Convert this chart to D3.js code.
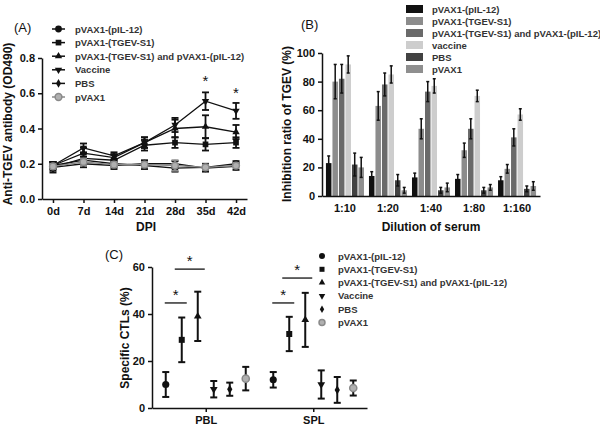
<!DOCTYPE html>
<html>
<head>
<meta charset="utf-8">
<script src="https://cdn.jsdelivr.net/npm/d3@7"></script>
<style>
  body { margin: 0; background: #fff; }
  svg text { font-family: "Liberation Sans", Arial, sans-serif; }
</style>
</head>
<body>
<svg id="chart" width="600" height="429"></svg>
<script>
// ---- data ----
var groupNames = ['pVAX1-(pIL-12)', 'pVAX1-(TGEV-S1)', 'pVAX1-(TGEV-S1) and pVAX1-(pIL-12)', 'Vaccine', 'PBS', 'pVAX1'];
var groupNamesB = ['pVAX1-(pIL-12)', 'pVAX1-(TGEV-S1)', 'pVAX1-(TGEV-S1) and pVAX1-(pIL-12)', 'vaccine', 'PBS', 'pVAX1'];

// (A) antibody OD490 by day
var days = ['0d', '7d', '14d', '21d', '28d', '35d', '42d'];
var odIL12   = [0.19, 0.22, 0.20, 0.19, 0.175, 0.18, 0.20];
var odS1     = [0.18, 0.23, 0.22, 0.305, 0.32, 0.31, 0.32];
var odCombo  = [0.19, 0.26, 0.235, 0.32, 0.40, 0.41, 0.38];
var odVacc   = [0.19, 0.29, 0.245, 0.32, 0.42, 0.555, 0.50];
var odPBS    = [0.18, 0.20, 0.19, 0.20, 0.20, 0.175, 0.185];
var odVAX1   = [0.185, 0.21, 0.195, 0.195, 0.19, 0.18, 0.19];
var errIL12  = [0.02, 0.02, 0.02, 0.02, 0.02, 0.02, 0.015];
var errS1    = [0.03, 0.03, 0.03, 0.03, 0.03, 0.035, 0.03];
var errCombo = [0.02, 0.03, 0.02, 0.03, 0.05, 0.065, 0.04];
var errVacc  = [0.02, 0.025, 0.02, 0.03, 0.04, 0.05, 0.045];
var errPBS   = [0.02, 0.02, 0.02, 0.02, 0.015, 0.02, 0.02];
var errVAX1  = [0.015, 0.02, 0.015, 0.015, 0.03, 0.015, 0.015];
var starsA = [{day: '35d', v: 0.685}, {day: '42d', v: 0.62}];

// (B) inhibition ratio by serum dilution
var dilutions = ['1:10', '1:20', '1:40', '1:80', '1:160'];
var inhIL12  = [23, 14, 13, 12, 11];
var inhS1    = [80, 63, 47, 32, 19];
var inhCombo = [82, 78, 73, 47, 41];
var inhVacc  = [92, 85, 77, 70, 57];
var inhPBS   = [22, 11, 4, 4, 5];
var inhVAX1  = [20, 4, 6, 6, 7];
var inhErrIL12  = [5, 3, 3, 3, 2.5];
var inhErrS1    = [12, 10, 7, 5, 3];
var inhErrCombo = [10, 8, 7, 7, 6];
var inhErrVacc  = [6, 6, 5, 4, 4];
var inhErrPBS   = [8, 4, 2, 2, 2];
var inhErrVAX1  = [7, 2, 3, 2, 3];

// (C) specific CTLs
var tissues = ['PBL', 'SPL'];
var ctlMean = [[10, 29, 39, 8, 8, 12.5], [12, 31.5, 37.5, 10, 7.7, 8.5]];
var ctlErr  = [[5.3, 9.5, 10.5, 3.5, 2.8, 5], [3.3, 7.3, 11.5, 6, 5.5, 3.2]];
var sigC = [
  {tissue: 'PBL', a: 0, b: 1, v: 44.7},
  {tissue: 'PBL', a: 1, b: 2, v: 59.1},
  {tissue: 'SPL', a: 0, b: 1, v: 44.7},
  {tissue: 'SPL', a: 1, b: 2, v: 55.3}
];

// ---- shared style ----
var svg = d3.select('#chart');
var barColors = ['#111111', '#8c8c8c', '#6a6a6a', '#cdcdcd', '#424242', '#8f8f8f'];
var symTypes = [d3.symbolCircle, d3.symbolSquare, d3.symbolTriangle, d3.symbolTriangle, d3.symbolDiamond, d3.symbolCircle];
var symScale = [1, 0.9, 0.65, 0.65, 0.6, 1];
function marker(sel, i, size) {
  sel.append('path')
    .attr('d', d3.symbol().type(symTypes[i]).size(size * symScale[i]))
    .attr('transform', i == 3 ? 'rotate(180)' : null)
    .attr('fill', i == 5 ? '#b0b0b0' : '#111')
    .attr('stroke', i == 5 ? '#8a8a8a' : 'none')
    .attr('stroke-width', i == 5 ? 1.5 : 0);
}
function styleAxis(g) {
  g.selectAll('path, line').attr('stroke', '#111').attr('stroke-width', 1.5);
  g.selectAll('text').attr('font-size', 11).attr('font-weight', 'bold').attr('fill', '#111');
}
function errBar(g, x, y0, y1, cap) {
  g.append('line').attr('x1', x).attr('x2', x).attr('y1', y0).attr('y2', y1);
  g.append('line').attr('x1', x - cap).attr('x2', x + cap).attr('y1', y0).attr('y2', y0);
  g.append('line').attr('x1', x - cap).attr('x2', x + cap).attr('y1', y1).attr('y2', y1);
}

// ================= (A) =================
var xA = d3.scalePoint().domain(days).range([42, 247]).padding(0.36);
var yA = d3.scaleLinear().domain([0, 0.8]).range([199, 58]);
var seriesA = [
  {v: odIL12, e: errIL12}, {v: odS1, e: errS1}, {v: odCombo, e: errCombo},
  {v: odVacc, e: errVacc}, {v: odPBS, e: errPBS}, {v: odVAX1, e: errVAX1}
];
svg.append('g').attr('transform', 'translate(42,0)')
  .call(d3.axisLeft(yA).tickValues([0, 0.2, 0.4, 0.6, 0.8]).tickFormat(d3.format('.1f')).tickSize(4).tickSizeOuter(0))
  .call(styleAxis);
svg.append('g').attr('transform', 'translate(0,199)')
  .call(d3.axisBottom(xA).tickSize(4).tickSizeOuter(0).tickPadding(4))
  .call(styleAxis);

var lineA = d3.line().x(function(d, i) { return xA(days[i]); }).y(function(d) { return yA(d); });
seriesA.forEach(function(s, k) {
  var col = k == 5 ? '#8a8a8a' : '#111';
  var g = svg.append('g');
  g.append('path').attr('d', lineA(s.v)).attr('fill', 'none').attr('stroke', col).attr('stroke-width', 1.3);
  var eb = g.append('g').attr('stroke', col).attr('stroke-width', 1.8);
  s.v.forEach(function(v, i) {
    errBar(eb, xA(days[i]), yA(v + s.e[i]), yA(v - s.e[i]), 3.5);
  });
  s.v.forEach(function(v, i) {
    marker(g.append('g').attr('transform', 'translate(' + xA(days[i]) + ',' + yA(v) + ')'), k, 36);
  });
});
svg.selectAll('.starA').data(starsA).enter().append('text')
  .attr('x', function(d) { return xA(d.day); })
  .attr('y', function(d) { return yA(d.v) + 8; })
  .attr('text-anchor', 'middle').attr('font-size', 15).attr('fill', '#111').text('*');

var legA = svg.append('g');
groupNames.forEach(function(n, i) {
  var y = 29 + i * 13.6;
  var col = i == 5 ? '#8a8a8a' : '#111';
  legA.append('line').attr('x1', 52).attr('x2', 65).attr('y1', y).attr('y2', y).attr('stroke', col).attr('stroke-width', 1.5);
  marker(legA.append('g').attr('transform', 'translate(58.5,' + y + ')'), i, 36);
  legA.append('text').attr('x', 75).attr('y', y + 3.5).attr('font-size', 9.5).attr('font-weight', 'bold').attr('fill', '#333').text(n);
});
svg.append('text').attr('x', 14).attr('y', 32).attr('font-size', 13).attr('fill', '#111').text('(A)');
svg.append('text').attr('transform', 'translate(12,124) rotate(-90)').attr('text-anchor', 'middle')
  .attr('font-size', 12).attr('font-weight', 'bold').attr('fill', '#111').text('Anti-TGEV antibody (OD490)');
svg.append('text').attr('x', 146).attr('y', 231).attr('text-anchor', 'middle')
  .attr('font-size', 12).attr('font-weight', 'bold').attr('fill', '#111').text('DPI');

// ================= (B) =================
var xB = d3.scaleBand().domain(dilutions).range([322, 540]).paddingInner(0.093).paddingOuter(0.08);
var xB2 = d3.scaleBand().domain(d3.range(6)).range([0, xB.bandwidth()]);
var yB = d3.scaleLinear().domain([0, 100]).range([196, 53]);
var seriesB = [
  {v: inhIL12, e: inhErrIL12}, {v: inhS1, e: inhErrS1}, {v: inhCombo, e: inhErrCombo},
  {v: inhVacc, e: inhErrVacc}, {v: inhPBS, e: inhErrPBS}, {v: inhVAX1, e: inhErrVAX1}
];
var gB = svg.append('g');
seriesB.forEach(function(s, k) {
  gB.selectAll('.b' + k).data(s.v).enter().append('rect')
    .attr('x', function(d, i) { return xB(dilutions[i]) + xB2(k) + 0.5; })
    .attr('y', function(d) { return yB(d); })
    .attr('width', xB2.bandwidth() - 1)
    .attr('height', function(d) { return yB(0) - yB(d); })
    .attr('fill', barColors[k]);
  var eb = gB.append('g').attr('stroke', '#111').attr('stroke-width', 1.5);
  s.v.forEach(function(v, i) {
    var cx = xB(dilutions[i]) + xB2(k) + xB2.bandwidth() / 2;
    errBar(eb, cx, yB(v + s.e[i]), yB(Math.max(0, v - s.e[i])), 1.5);
  });
});
svg.append('g').attr('transform', 'translate(322,0)')
  .call(d3.axisLeft(yB).tickValues([0, 20, 40, 60, 80, 100]).tickSize(4).tickSizeOuter(0))
  .call(styleAxis);
svg.append('g').attr('transform', 'translate(0,196)')
  .call(d3.axisBottom(xB).tickSize(0).tickSizeOuter(0).tickPadding(8))
  .call(styleAxis);

var legB = svg.append('g');
groupNamesB.forEach(function(n, i) {
  var y = 9 + i * 12;
  legB.append('rect').attr('x', 406).attr('y', y - 4).attr('width', 17).attr('height', 8).attr('fill', barColors[i]);
  legB.append('text').attr('x', 432).attr('y', y + 3.5).attr('font-size', 9.5).attr('font-weight', 'bold').attr('fill', '#333').text(n);
});
svg.append('text').attr('x', 301).attr('y', 29).attr('font-size', 13).attr('fill', '#111').text('(B)');
svg.append('text').attr('transform', 'translate(291,124) rotate(-90)').attr('text-anchor', 'middle')
  .attr('font-size', 12).attr('font-weight', 'bold').attr('fill', '#111').text('Inhibition ratio of TGEV (%)');
svg.append('text').attr('x', 431).attr('y', 231).attr('text-anchor', 'middle')
  .attr('font-size', 12).attr('font-weight', 'bold').attr('fill', '#111').text('Dilution of serum');

// ================= (C) =================
var xC = d3.scalePoint().domain(tissues).range([152, 367]).padding(0.5);
var yC = d3.scaleLinear().domain([0, 60]).range([408, 267]);
var off = function(k) { return (k - 2.5) * 16; };
svg.append('g').attr('transform', 'translate(152,0)')
  .call(d3.axisLeft(yC).tickValues([0, 20, 40, 60]).tickSize(4).tickSizeOuter(0))
  .call(styleAxis);
svg.append('g').attr('transform', 'translate(0,408)')
  .call(d3.axisBottom(xC).tickSize(4).tickSizeOuter(0).tickPadding(4))
  .call(styleAxis);

tissues.forEach(function(t, ti) {
  ctlMean[ti].forEach(function(m, k) {
    var cx = xC(t) + off(k);
    var eb = svg.append('g').attr('stroke', '#111').attr('stroke-width', 2);
    errBar(eb, cx, yC(m + ctlErr[ti][k]), yC(m - ctlErr[ti][k]), 3.5);
    marker(svg.append('g').attr('transform', 'translate(' + cx + ',' + yC(m) + ')'), k, 40);
  });
});
sigC.forEach(function(s) {
  var x1 = xC(s.tissue) + off(s.a) - (s.a == 0 ? 1 : 7);
  var x2 = xC(s.tissue) + off(s.b) + (s.a == 0 ? 5 : 7);
  svg.append('line').attr('x1', x1).attr('x2', x2).attr('y1', yC(s.v)).attr('y2', yC(s.v))
    .attr('stroke', '#111').attr('stroke-width', 1.3);
  svg.append('text').attr('x', (x1 + x2) / 2).attr('y', yC(s.v) - 3).attr('text-anchor', 'middle')
    .attr('font-size', 15).attr('fill', '#111').text('*');
});

var legC = svg.append('g');
groupNames.forEach(function(n, i) {
  var y = 256 + i * 13.3;
  marker(legC.append('g').attr('transform', 'translate(322,' + y + ')'), i, 28);
  legC.append('text').attr('x', 338).attr('y', y + 3.5).attr('font-size', 9.5).attr('font-weight', 'bold').attr('fill', '#333').text(n);
});
svg.append('text').attr('x', 105).attr('y', 259).attr('font-size', 13).attr('fill', '#111').text('(C)');
svg.append('text').attr('transform', 'translate(129,338) rotate(-90)').attr('text-anchor', 'middle')
  .attr('font-size', 12).attr('font-weight', 'bold').attr('fill', '#111').text('Specific CTLs (%)');
</script>
</body>
</html>
